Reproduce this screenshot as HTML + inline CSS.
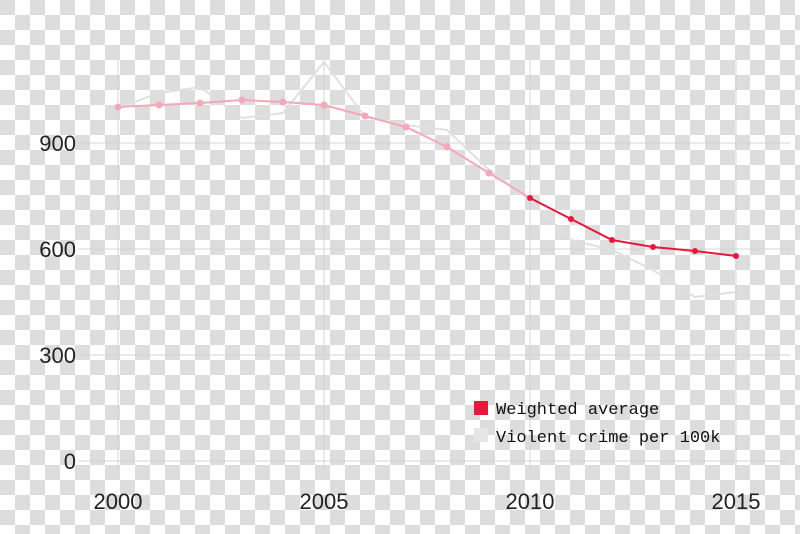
<!DOCTYPE html>
<html><head><style>
html,body{margin:0;padding:0;}
body{width:800px;height:534px;overflow:hidden;
background-color:#fff;
background-image:linear-gradient(45deg,#ddd 25%,transparent 25%,transparent 75%,#ddd 75%),linear-gradient(45deg,#ddd 25%,transparent 25%,transparent 75%,#ddd 75%);
background-size:30px 30px;background-position:15px 0,0 15px;}
</style></head><body>
<svg width="800" height="534" style="position:absolute;left:0;top:0">
<g stroke="#d4d4d4" stroke-width="1">
<line x1="78" y1="143" x2="790" y2="143"/>
<line x1="78" y1="249" x2="790" y2="249"/>
<line x1="78" y1="355" x2="790" y2="355"/>
<line x1="78" y1="461" x2="790" y2="461"/>
<line x1="118" y1="60" x2="118" y2="470"/>
<line x1="324" y1="60" x2="324" y2="470"/>
<line x1="530" y1="60" x2="530" y2="470"/>
<line x1="736" y1="60" x2="736" y2="470"/>
</g>
<polyline fill="none" stroke="#e0e0e0" stroke-width="2" points="118,108 159,93 200,87 242,118 283,113 324,62 365,117 406,125 447,130 489,170 530,200 571,240 612,250 653,270 695,297 736,292"/>
<polyline fill="none" stroke="#f4a8b8" stroke-width="2" points="118,107 159,105 200,103 242,100 283,102 324,105 365,116 406,127 447,147 489,173 530,198"/>
<g fill="#f4a8b8"><circle cx="118" cy="107" r="3.5"/><circle cx="159" cy="105" r="3.5"/><circle cx="200" cy="103" r="3.5"/><circle cx="242" cy="100" r="3.5"/><circle cx="283" cy="102" r="3.5"/><circle cx="324" cy="105" r="3.5"/><circle cx="365" cy="116" r="3.5"/><circle cx="406" cy="127" r="3.5"/><circle cx="447" cy="147" r="3.5"/><circle cx="489" cy="173" r="3.5"/></g>
<polyline fill="none" stroke="#e8173c" stroke-width="2" points="530,198 571,219 612,240 653,247 695,251 736,256"/>
<g fill="#e8173c"><circle cx="530" cy="198" r="3"/><circle cx="571" cy="219" r="3"/><circle cx="612" cy="240" r="3"/><circle cx="653" cy="247" r="3"/><circle cx="695" cy="251" r="3"/><circle cx="736" cy="256" r="3"/></g>
<g font-family="Liberation Sans, sans-serif" font-size="22" fill="#222">
<text x="76" y="151" text-anchor="end">900</text>
<text x="76" y="257" text-anchor="end">600</text>
<text x="76" y="363" text-anchor="end">300</text>
<text x="76" y="469" text-anchor="end">0</text>
<text x="118" y="509" text-anchor="middle">2000</text>
<text x="324" y="509" text-anchor="middle">2005</text>
<text x="530" y="509" text-anchor="middle">2010</text>
<text x="736" y="509" text-anchor="middle">2015</text>
</g>
<rect x="474" y="401" width="14" height="14" fill="#e8173c"/>
<rect x="474" y="428" width="14" height="14" fill="#e6e6e6"/>
<g font-family="Liberation Mono, monospace" font-size="17" fill="#111">
<text x="496" y="414">Weighted average</text>
<text x="496" y="442">Violent crime per 100k</text>
</g>
</svg>
</body></html>
